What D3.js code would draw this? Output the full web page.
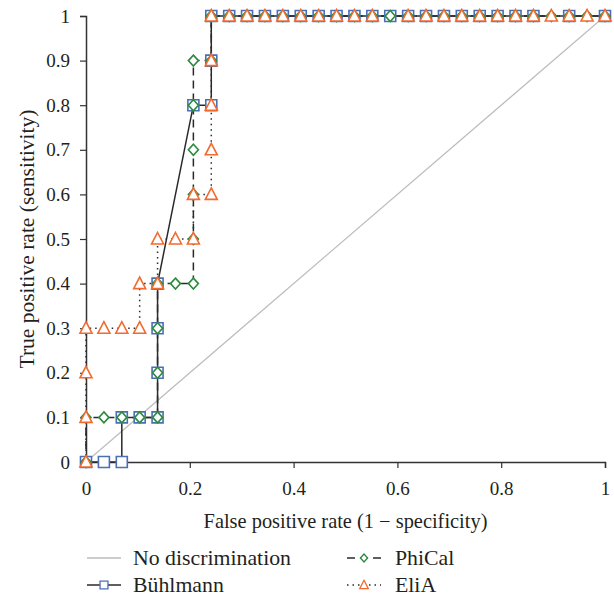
<!DOCTYPE html>
<html>
<head>
<meta charset="utf-8">
<script src="https://cdn.jsdelivr.net/npm/d3@7"></script>
<style>
  body { margin: 0; background: #fff; }
  svg text { font-family: "Liberation Serif", "DejaVu Serif", serif; fill: #231f20; }
</style>
</head>
<body>
<div id="chart"></div>
<script>
// false positive rate steps (k / 29)
const fprSteps = [0, 0.0345, 0.069, 0.1034, 0.1379, 0.1724, 0.2069, 0.2414, 0.2759, 0.3103,
  0.3448, 0.3793, 0.4138, 0.4483, 0.4828, 0.5172, 0.5517, 0.5862, 0.6207, 0.6552,
  0.6897, 0.7241, 0.7586, 0.7931, 0.8276, 0.8621, 0.8966, 0.931, 0.9655, 1];

const yTicks = [0, 0.1, 0.2, 0.3, 0.4, 0.5, 0.6, 0.7, 0.8, 0.9, 1];
const xTicks = [0, 0.2, 0.4, 0.6, 0.8, 1];

// series: index into fprSteps, and sensitivity
const buhlmannIdx = [0, 1, 2, 2, 3, 4, 4, 4, 4, 6, 7, 7, 7, 8, 9, 10, 11, 12, 13, 14, 15, 16, 17,
  18, 19, 20, 21, 22, 23, 24, 25, 27, 29];
const buhlmannTpr = [0, 0, 0, 0.1, 0.1, 0.1, 0.2, 0.3, 0.4, 0.8, 0.8, 0.9, 1, 1, 1, 1, 1, 1, 1, 1, 1, 1, 1,
  1, 1, 1, 1, 1, 1, 1, 1, 1, 1];

const phicalIdx = [0, 0, 1, 2, 3, 4, 4, 4, 4, 5, 6, 6, 6, 6, 6, 6, 7, 7, 8, 9, 10, 11, 12, 13, 14,
  15, 16, 17, 18, 19, 20, 21, 22, 23, 24, 25, 26, 27, 28, 29];
const phicalTpr = [0, 0.1, 0.1, 0.1, 0.1, 0.1, 0.2, 0.3, 0.4, 0.4, 0.4, 0.5, 0.6, 0.7, 0.8, 0.9, 0.9, 1, 1, 1, 1, 1, 1, 1, 1,
  1, 1, 1, 1, 1, 1, 1, 1, 1, 1, 1, 1, 1, 1, 1];

const eliaIdx = [0, 0, 0, 0, 1, 2, 3, 3, 4, 4, 5, 6, 6, 7, 7, 7, 7, 7, 8, 9, 10, 11, 12, 13, 14,
  15, 16, 18, 19, 20, 21, 22, 23, 24, 25, 26, 27, 28, 29];
const eliaTpr = [0, 0.1, 0.2, 0.3, 0.3, 0.3, 0.3, 0.4, 0.4, 0.5, 0.5, 0.5, 0.6, 0.6, 0.7, 0.8, 0.9, 1, 1, 1, 1, 1, 1, 1, 1,
  1, 1, 1, 1, 1, 1, 1, 1, 1, 1, 1, 1, 1, 1];

const W = 614, H = 597;
const margin = {top: 16, right: 9, bottom: 135, left: 86};

const svg = d3.select("#chart").append("svg").attr("width", W).attr("height", H);

const x = d3.scaleLinear().domain([0, 1]).range([margin.left, W - margin.right]);
const y = d3.scaleLinear().domain([0, 1]).range([H - margin.bottom, margin.top]);

const axisColor = "#333";

// axes
const gx = svg.append("g").attr("transform", `translate(0,${y(0)})`)
  .call(d3.axisBottom(x).tickValues(xTicks).tickSize(6).tickPadding(14).tickFormat(d3.format("")));
const gy = svg.append("g").attr("transform", `translate(${x(0)},0)`)
  .call(d3.axisLeft(y).tickValues(yTicks).tickSize(6).tickPadding(10).tickFormat(d3.format("")));
[gx, gy].forEach(g => {
  g.select(".domain").attr("stroke", axisColor).attr("stroke-width", 1.5);
  g.selectAll(".tick line").attr("stroke", axisColor).attr("stroke-width", 1.2);
  g.selectAll("text").attr("font-size", 19).attr("font-family", "Liberation Serif").attr("fill", "#231f20");
});

svg.append("text").attr("x", (x(0) + x(1)) / 2).attr("y", 528).attr("text-anchor", "middle")
  .attr("font-size", 20.4).text("False positive rate (1 \u2212 specificity)");
svg.append("text").attr("transform", `translate(34,${(y(0) + y(1)) / 2}) rotate(-90)`)
  .attr("text-anchor", "middle").attr("font-size", 21.5).text("True positive rate (sensitivity)");

// no discrimination line
svg.append("line").attr("x1", x(0)).attr("y1", y(0)).attr("x2", x(1)).attr("y2", y(1))
  .attr("stroke", "#bdbdbd").attr("stroke-width", 1.2);

const series = [
  {name: "Bühlmann", idx: buhlmannIdx, tpr: buhlmannTpr, dash: null, color: "#4a6fb5", shape: "square"},
  {name: "PhiCal", idx: phicalIdx, tpr: phicalTpr, dash: "8,5", color: "#2b8a3e", shape: "diamond"},
  {name: "EliA", idx: eliaIdx, tpr: eliaTpr, dash: "1.5,4", color: "#f26a2e", shape: "triangle"}
];

const shapePath = {
  square: "M-5.5,-5.5H5.5V5.5H-5.5Z",
  diamond: "M0,-5.5L5,0L0,5.5L-5,0Z",
  triangle: "M0,-6.5L6,5L-6,5Z"
};

const line = d3.line().x(d => x(d[0])).y(d => y(d[1]));

series.forEach(s => {
  s.pts = s.idx.map((k, i) => [fprSteps[k], s.tpr[i]]);
  svg.append("path").datum(s.pts).attr("d", line)
    .attr("fill", "none").attr("stroke", "#2a2a2a").attr("stroke-width", 1.5)
    .attr("stroke-dasharray", s.dash);
});

series.forEach(s => {
  svg.append("g").selectAll("path").data(s.pts).join("path")
    .attr("transform", d => `translate(${x(d[0])},${y(d[1])})`)
    .attr("d", shapePath[s.shape])
    .attr("fill", "#fff").attr("stroke", s.color).attr("stroke-width", 1.6);
});

// legend
const legend = [
  {name: "No discrimination", col: 0, row: 0, stroke: "#bdbdbd", dash: null, shape: null, color: null},
  {name: "PhiCal", col: 1, row: 0, stroke: "#2a2a2a", dash: "8,5", shape: "diamond", color: "#2b8a3e"},
  {name: "Bühlmann", col: 0, row: 1, stroke: "#2a2a2a", dash: null, shape: "square", color: "#4a6fb5"},
  {name: "EliA", col: 1, row: 1, stroke: "#2a2a2a", dash: "1.5,4", shape: "triangle", color: "#f26a2e"}
];
const lg = svg.append("g");
legend.forEach(l => {
  const lx = l.col === 0 ? 87 : 347;
  const ly = l.row === 0 ? 558 : 585;
  const g = lg.append("g").attr("transform", `translate(${lx},${ly})`);
  g.append("line").attr("x1", 0).attr("x2", 34).attr("y1", 0).attr("y2", 0)
    .attr("stroke", l.stroke).attr("stroke-width", 1.5).attr("stroke-dasharray", l.dash);
  if (l.shape) {
    g.append("path").attr("transform", "translate(17,0) scale(0.72)").attr("d", shapePath[l.shape])
      .attr("fill", "#fff").attr("stroke", l.color).attr("stroke-width", 1.8);
  }
  g.append("text").attr("x", l.col === 0 ? 46 : 48).attr("y", 7).attr("font-size", 21.8).text(l.name);
});
</script>
</body>
</html>
